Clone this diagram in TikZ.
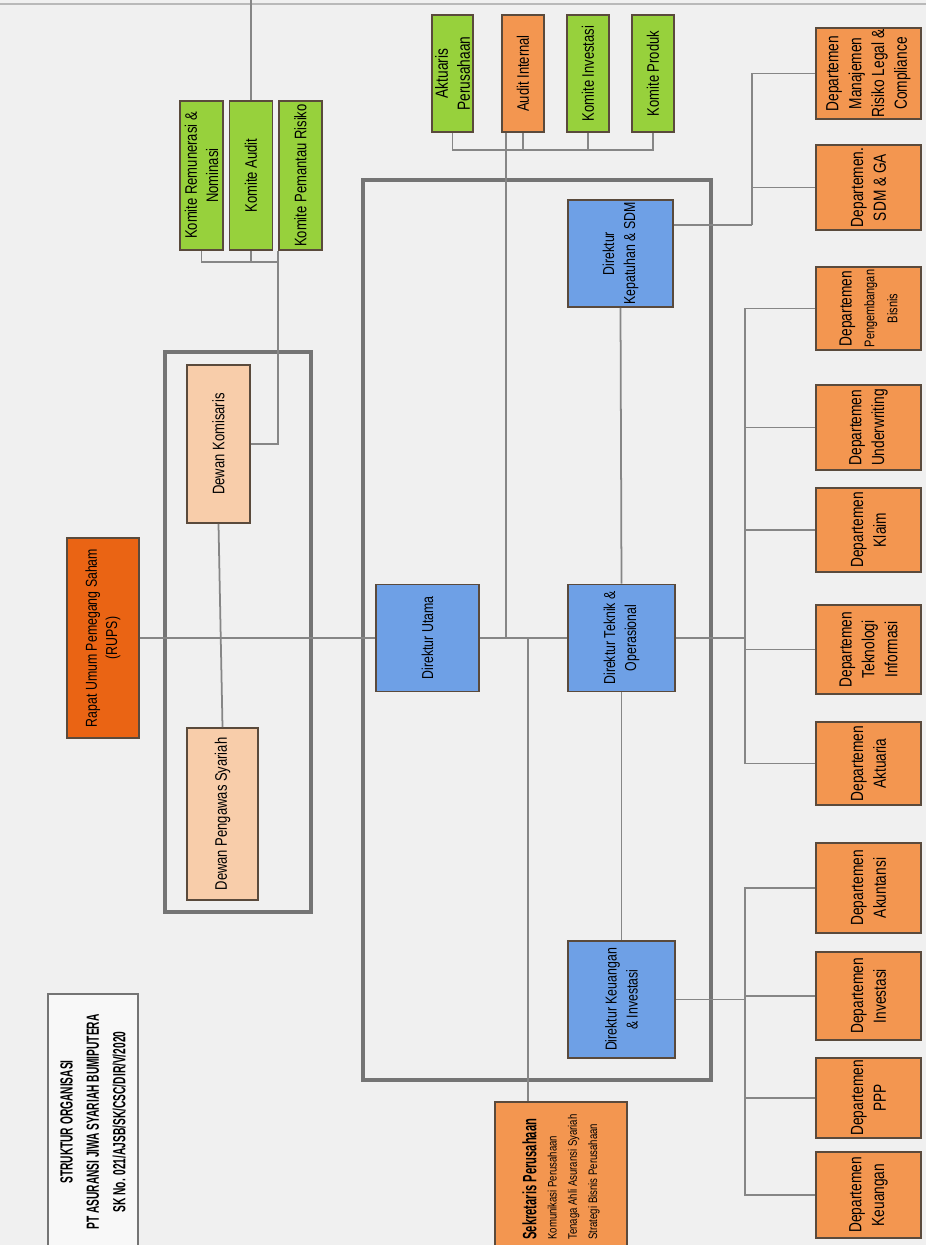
\documentclass[tikz,border=0pt]{standalone}
\usepackage{fontspec}
\newfontfamily\nar{Liberation Sans}[FakeStretch=0.78]
\newfontfamily\ttl{Liberation Sans}[FakeStretch=0.58]
\definecolor{bg}{HTML}{F0F0F0}
\definecolor{bord}{HTML}{5A4A3C}
\definecolor{orng}{HTML}{F39650}
\definecolor{rupsc}{HTML}{EA6414}
\definecolor{lime}{HTML}{97D13C}
\definecolor{blu}{HTML}{6EA0E6}
\definecolor{pch}{HTML}{F8CDAA}
\definecolor{frm}{HTML}{747474}
\definecolor{lin}{HTML}{868686}
\begin{document}
\begin{tikzpicture}[x=0.02cm,y=-0.02cm,
  sz/.style 2 args={minimum height=#1*0.02cm, minimum width=#2*0.02cm},
  bx/.style={rotate=90, draw=bord, line width=1.1pt, inner sep=1pt, align=center, text=black, font=\nar\fontsize{10}{13}\selectfont},
  dept/.style={bx, fill=orng},
  grn/.style={bx, fill=lime, font=\nar\fontsize{9.5}{12}\selectfont},
  dir/.style={bx, fill=blu, font=\nar\fontsize{9}{12}\selectfont},
  peach/.style={bx, fill=pch, font=\nar\fontsize{9.5}{12}\selectfont},
  outerbox/.style={draw=frm, line width=2.2pt},
  conn/.style={draw=lin, line width=1pt},
]
\useasboundingbox (0,0) rectangle (926,1245);
\clip (0,0) rectangle (926,1245);
\fill[bg] (0,0) rectangle (926,1245);
\draw[draw=frm!50, line width=0.6pt] (0,4) -- (926,4);

% outer groups
\draw[outerbox] (165,352) rectangle (311,912);
\draw[outerbox] (363,180) rectangle (711,1080);

% title
\node[bx, fill=white!55!bg, draw=frm, line width=0.8pt, sz={90}{256}, font=\ttl\bfseries\fontsize{10}{15}\selectfont] (title) at (93,1122)
  {STRUKTUR ORGANISASI\\PT ASURANSI JIWA SYARIAH BUMIPUTERA\\SK No. 021/AJSB/SK/CSC/DIR/V/2020};

% RUPS and boards
\node[bx, fill=rupsc, sz={72}{200}, font=\nar\fontsize{9}{11.5}\selectfont] (rups) at (103,638) {Rapat Umum Pemegang Saham\\(RUPS)};
\node[peach, sz={63}{158}] (kom) at (218.5,444) {Dewan Komisaris};
\node[peach, sz={71}{172}] (dps) at (222.5,814) {Dewan Pengawas Syariah};

% committees
\node[grn, sz={43}{149}] (krn) at (201.5,175.5) {Komite Remunerasi \&\\Nominasi};
\node[grn, sz={43}{149}] (kau) at (251,175.5) {Komite Audit};
\node[grn, sz={43}{149}] (kpr) at (300.5,175.5) {Komite Pemantau Risiko};

% top boxes
\node[grn, sz={41}{117}, font=\nar\fontsize{10}{12.5}\selectfont] (akt) at (452.5,73.5) {Aktuaris\\Perusahaan};
\node[grn, fill=orng, sz={42}{117}] (ai) at (523,73.5) {Audit Internal};
\node[grn, sz={42}{117}] (kinv) at (588,73.5) {Komite Investasi};
\node[grn, sz={42}{117}] (kprod) at (653,73.5) {Komite Produk};

% directors
\node[dir, sz={103}{107}] (du) at (427.5,638) {Direktur Utama};
\node[dir, sz={105}{107}] (dks) at (620.5,253.5) {Direktur\\Kepatuhan \& SDM};
\node[dir, sz={107}{107}] (dto) at (621.5,638) {Direktur Teknik \&\\Operasional};
\node[dir, sz={107}{117}] (dki) at (621.5,999.5) {Direktur Keuangan\\\& Investasi};

% corporate secretary
\node[bx, fill=orng, sz={132}{150}, align=left, font=\nar\fontsize{7}{11.5}\selectfont] (sek) at (561,1177)
  {{\ttl\bfseries\fontsize{11}{13}\selectfont Sekretaris Perusahaan}\\Komunikasi Perusahaan\\Tenaga Ahli Asuransi Syariah\\Strategi Bisnis Perusahaan};

% departments
\node[dept, sz={105}{87}] (dlegal) at (868.5,73.5) {Departemen\\Manajemen\\Risiko Legal \&\\Compliance};
\node[dept, sz={105}{85}] (dsdm) at (868.5,187.5) {Departemen.\\SDM \& GA};
\node[dept, sz={105}{83}] (dpb) at (868.5,308.5) {Departemen\\{\fontsize{8}{10}\selectfont Pengembangan}\\{\fontsize{8}{10}\selectfont Bisnis}};
\node[dept, sz={105}{85}] (duw) at (868.5,427.5) {Departemen\\Underwriting};
\node[dept, sz={105}{84}] (dkl) at (868.5,530) {Departemen\\Klaim};
\node[dept, sz={105}{89}] (dti) at (868.5,649.5) {Departemen\\Teknologi\\Informasi};
\node[dept, sz={105}{83}] (dakt) at (868.5,763.5) {Departemen\\Aktuaria};
\node[dept, sz={105}{90}] (dakun) at (868.5,888) {Departemen\\Akuntansi};
\node[dept, sz={105}{88}] (dinv) at (868.5,996) {Departemen\\Investasi};
\node[dept, sz={105}{80}] (dppp) at (868.5,1098) {Departemen\\PPP};
\node[dept, sz={105}{86}] (dkeu) at (868.5,1195) {Departemen\\Keuangan};

% connectors: RUPS / boards
\draw[conn] (rups.south) -- (du.north);
\draw[conn] (kom.west) -- (dps.east);
\coordinate (kb) at (278,262);
\draw[conn] (kom.south) -| (kb);
\draw[conn] (krn.west) |- (kb);
\draw[conn] (kau.west) -- (kau.west |- kb);
\draw[conn] (kb) -- (kb |- kpr.west);
\coordinate (ktop) at (251,0);
\draw[conn] (kau.east) -- (ktop);

% connectors: directors
\draw[conn] (du.south) -- (dto.north);
\draw[conn] (dks.west) -- (dto.east);
\draw[conn] (dto.west) -- (dki.east);
\coordinate (aj) at (506,638);
\draw[conn] (aj) -- (aj |- ai.west);
\coordinate (tb) at (0,150);
\draw[conn] (akt.west) |- (kprod.west |- tb) -- (kprod.west);
\draw[conn] (kinv.west) -- (kinv.west |- tb);
\draw[conn] (ai.west) -- (ai.west |- tb);
\coordinate (sj) at (528,638);
\draw[conn] (sj) -- (sj |- sek.east);

% connectors: departments
\coordinate (g1) at (752,225);
\draw[conn] (g1 -| dks.south) -- (g1);
\draw[conn] (dlegal.north) -| (g1);
\draw[conn] (dsdm.north) -- (dsdm.north -| g1);

\coordinate (g2) at (745,638);
\draw[conn] (dto.south) -- (g2);
\draw[conn] (dpb.north) -| (g2);
\draw[conn] (dakt.north) -| (g2);
\draw[conn] (duw.north) -- (duw.north -| g2);
\draw[conn] (dkl.north) -- (dkl.north -| g2);
\draw[conn] (dti.north) -- (dti.north -| g2);

\coordinate (g3) at (745,999.5);
\draw[conn] (dki.south) -- (g3);
\draw[conn] (dakun.north) -| (g3);
\draw[conn] (dkeu.north) -| (g3);
\draw[conn] (dinv.north) -- (dinv.north -| g3);
\draw[conn] (dppp.north) -- (dppp.north -| g3);
\end{tikzpicture}
\end{document}
